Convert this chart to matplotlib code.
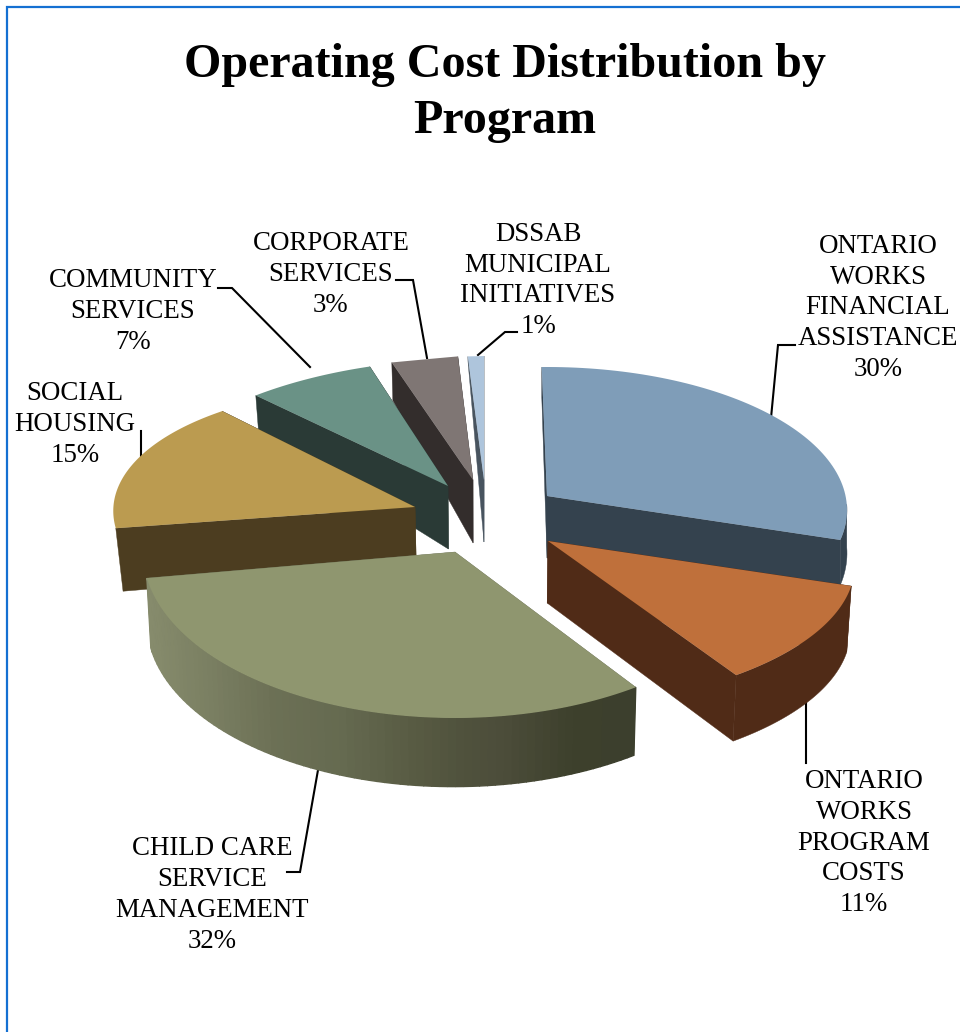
import numpy as np
import matplotlib
matplotlib.use('Agg')
import matplotlib.pyplot as plt
from matplotlib.colors import to_rgb

plt.rcParams['font.family'] = ['Liberation Serif', 'DejaVu Serif']

title = "Operating Cost Distribution by\nProgram"
categories = ["ONTARIO\nWORKS\nFINANCIAL\nASSISTANCE", "ONTARIO\nWORKS\nPROGRAM\nCOSTS",
              "CHILD CARE\nSERVICE\nMANAGEMENT", "SOCIAL\nHOUSING", "COMMUNITY\nSERVICES",
              "CORPORATE\nSERVICES", "DSSAB\nMUNICIPAL\nINITIATIVES"]
values = [30, 11, 32, 15, 7, 3, 1]

top_colors = ['#7f9db8', '#bf703b', '#8f966f', '#bb9b50', '#6a9286', '#7f7674', '#aec5dc']
side_colors = ['#34424e', '#502b17', '#6b7055', '#4c3d20', '#2a3a36', '#332d2c', '#48545f']

# picture layout of each exploded slice: apex, rim radii at start/end of the slice
apex_x = [547, 548, 455, 415, 448, 473, 484]
apex_y = [496, 541, 552, 507, 486, 480, 480]
rim_dy = [14, 0, 0, 0, 0, 0, 0]
rx_a = [300, 319, 312, 303, 293, 303, 200]
rx_b = [300, 356, 312, 294, 292, 187, 0]
ry_a = [143, 145, 166, 135, 120, 122, 124]
ry_b = [143, 158, 166, 127, 124, 124, 124]
# perspective makes the drawn angles differ a bit from the true ones
ang_fix_a = [0, 0, -3.5, -3.5, 0, 0, 0]
ang_fix_b = [-6, 0, -3.5, 0, 0, 0, 0]
depth_apex = [62, 62, 62, 60, 63, 63, 62]
depth_a = [30, 66, 68, 63, 35, 38, 5]
depth_b = [45, 66, 70, 35, 35, 38, 5]
drop = [0, 0.012, 0.012, 0.02, 0.012, 0.012, 0.012]
has_wall = [True, True, True, False, False, False, False]

label_x = [878, 864, 212, 75, 133, 331, 538]
label_y = [308, 843, 895, 424.5, 311.5, 274.5, 280.5]
leaders = [[(771, 418), (778, 345), (795, 345)],
           [(806, 700), (806, 763)],
           [(318, 770), (300, 872), (287, 872)],
           [(141, 462), (141, 431)],
           [(310, 367), (232, 288), (218, 288)],
           [(427, 358), (413, 280), (396, 280)],
           [(478, 355), (505, 332), (517, 332)]]

grad_x = [150, 207, 273, 340, 407, 460, 500, 573, 637]
grad_c = ['#868b6c', '#7a7f62', '#6c7055', '#656a50', '#595c44', '#50523d', '#4c4d3a', '#3d402c', '#3c3f2d']
grad_rgb = np.array([to_rgb(c) for c in grad_c])

first_angle = -1.0
edges = first_angle + np.cumsum([0] + values) / sum(values) * 360.0


def rim(i, n=80):
    t = np.linspace(0, 1, n)
    a0 = edges[i] + ang_fix_a[i]
    a1 = edges[i + 1] + ang_fix_b[i]
    ang = np.radians(a0 + (a1 - a0) * t)
    rx = rx_a[i] + (rx_b[i] - rx_a[i]) * t
    ry = ry_a[i] + (ry_b[i] - ry_a[i]) * t
    x = apex_x[i] + rx * np.sin(ang)
    y = apex_y[i] + rim_dy[i] - ry * np.cos(ang)
    d = depth_a[i] + (depth_b[i] - depth_a[i]) * t
    return x, y, d, np.cos(ang) < 0.05


def drop_x(i, x):
    return x + (480 - x) * drop[i]


fig = plt.figure(figsize=(9.6, 10.32), dpi=100)
ax = fig.add_axes([0, 0, 1, 1])
ax.set_xlim(0, 960)
ax.set_ylim(1032, 0)
ax.axis('off')

# frame is cut off at the right and bottom of the picture
ax.plot([7, 7, 960], [1032, 7, 7], color='#1470d2', lw=1.6, solid_joinstyle='miter')

# back slices first, child care last
draw_order = [6, 5, 4, 3, 0, 1, 2]
for z, i in enumerate(draw_order):
    x, y, d, front = rim(i)
    cx, cy = apex_x[i], apex_y[i]
    da = depth_apex[i]
    # the two cut faces
    for k in (0, -1):
        ax.fill([cx, x[k], drop_x(i, x[k]), drop_x(i, cx)],
                [cy, y[k], y[k] + d[k], cy + da],
                color=side_colors[i], lw=0.3, zorder=2 + z)
    # outer wall, only its front part shows; child care has a shaded one
    if i == 2:
        for k in range(len(x) - 1):
            mid = (x[k] + x[k + 1]) / 2
            c = [np.interp(mid, grad_x, grad_rgb[:, j]) for j in range(3)]
            ax.fill([x[k], x[k + 1], drop_x(i, x[k + 1]), drop_x(i, x[k])],
                    [y[k], y[k + 1], y[k + 1] + d[k + 1], y[k] + d[k]],
                    color=c, lw=1.0, zorder=2 + z)
    elif has_wall[i]:
        fx, fy, fd = x[front], y[front], d[front]
        ax.fill(np.r_[fx, drop_x(i, fx[::-1])], np.r_[fy, (fy + fd)[::-1]],
                color=side_colors[i], lw=0.3, zorder=2 + z)
    ax.fill(np.r_[cx, x], np.r_[cy, y], color=top_colors[i], lw=0, zorder=2.5 + z)

for pts in leaders:
    ax.plot([p[0] for p in pts], [p[1] for p in pts], color='black', lw=1.5, zorder=1,
            solid_joinstyle='miter')

for i, name in enumerate(categories):
    ax.text(label_x[i], label_y[i], f"{name}\n{values[i]}%", ha='center', va='center',
            fontsize=19.4, linespacing=1.31, color='black', zorder=20)

ax.text(505, 93, title, ha='center', va='center', fontsize=34.6, fontweight='bold',
        linespacing=1.36, color='black', zorder=20)

fig.savefig('out.png', dpi=100)
